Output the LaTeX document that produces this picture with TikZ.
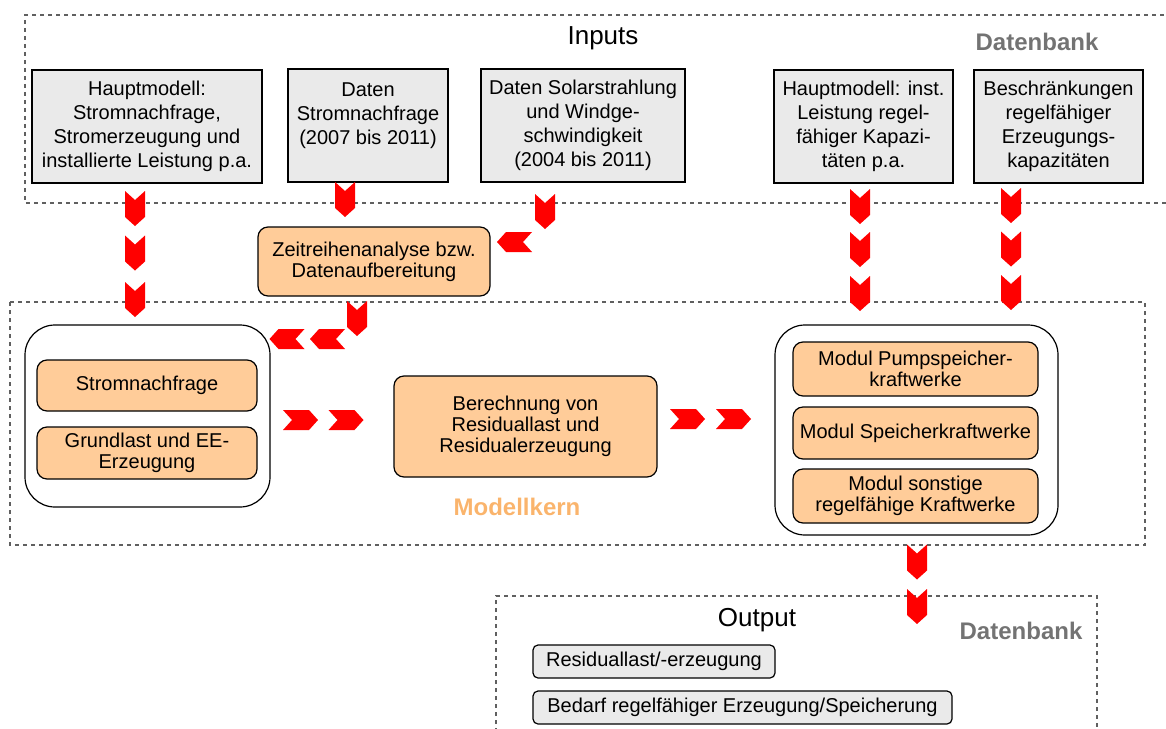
\documentclass[tikz,border=0pt]{standalone}
\usepackage{fontspec}
\setmainfont{Liberation Sans}
\definecolor{peach}{HTML}{FFCC99}
\definecolor{boxgray}{HTML}{EAEAEA}
\definecolor{dbgray}{HTML}{737373}
\definecolor{kernorange}{HTML}{FAB46C}
\definecolor{dashgray}{HTML}{606060}
\begin{document}
\begin{tikzpicture}[x=0.5pt,y=-0.5pt, font=\fontsize{10}{12}\selectfont,
 gbox/.style={draw=black, line width=0.6pt, fill=boxgray, inner sep=0pt, align=center},
 pbox/.style={draw=black, line width=0.6pt, fill=peach, rounded corners=5pt, inner sep=0pt, align=center, font=\fontsize{10}{10.5}\selectfont},
 obox/.style={draw=black, line width=0.6pt, rounded corners=15pt, inner sep=0pt},
 rbox/.style={draw=black, line width=0.6pt, fill=boxgray, rounded corners=2.5pt, inner sep=0pt, align=center},
 sz/.style 2 args={minimum width=#1, minimum height=#2},
 dashbox/.style={draw=dashgray, line width=0.6pt, dash pattern=on 2pt off 2pt},
 titletext/.style={font=\fontsize{13}{15}\selectfont, inner sep=0pt},
 dbtext/.style={font=\fontsize{12}{14}\selectfont\bfseries, text=dbgray, inner sep=0pt},
 chevdown/.pic={\fill[red] (-10,-17.5) -- (0,-8.5) -- (10,-17.5) -- (10,8.5) -- (0,17.5) -- (-10,8.5) -- cycle;},
 chevright/.pic={\fill[red] (-17.5,-10) -- (-8.5,0) -- (-17.5,10) -- (8.5,10) -- (17.5,0) -- (8.5,-10) -- cycle;},
 chevleft/.pic={\fill[red] (17.5,-10) -- (8.5,0) -- (17.5,10) -- (-8.5,10) -- (-17.5,0) -- (-8.5,-10) -- cycle;}
]
\useasboundingbox (0,0) rectangle (1166,728);

% dashed frames
\draw[dashbox] (1172,15) -- (25,15) -- (25,203) -- (1172,203);
\draw[dashbox] (10,302) rectangle (1145,545);
\draw[dashbox] (496,740) -- (496,596) -- (1097,596) -- (1097,740);

\node[titletext] (tin) at (603,38) {Inputs};
\node[dbtext] (db1) at (1037,42) {Datenbank};
\node[titletext] (tout) at (757,620) {Output};
\node[dbtext] (db2) at (1021,631) {Datenbank};
\node[font=\fontsize{12}{14}\selectfont\bfseries, text=kernorange, inner sep=0pt] (kern) at (517,507) {Modellkern};

% input boxes
\node[gbox, sz={115pt}{56.5pt}] (h1) at (147,126.5) {Hauptmodell:\\Stromnachfrage,\\Stromerzeugung und\\installierte Leistung p.a.};
\node[gbox, sz={80pt}{56.5pt}] (h2) at (368,125.5) {Daten\\Stromnachfrage\\(2007 bis 2011)\\~};
\node[gbox, sz={102pt}{56.5pt}] (h3) at (583,125.5) {Daten Solarstrahlung\\und Windge-\\schwindigkeit\\(2004 bis 2011)};
\node[gbox, sz={89.5pt}{56.5pt}] (h4) at (863.5,126.5) {Hauptmodell: inst.\\Leistung regel-\\fähiger Kapazi-\\täten p.a.};
\node[gbox, sz={84.5pt}{56.5pt}] (h5) at (1058.5,126.5) {Beschränkungen\\regelfähiger\\Erzeugungs-\\kapazitäten};

% Zeitreihen
\node[pbox, sz={116pt}{34.5pt}] (zr) at (374,261.5) {Zeitreihenanalyse bzw.\\Datenaufbereitung};

% left module
\node[obox, sz={122.5pt}{91pt}] (lo) at (147.5,416) {};
\node[pbox, sz={110pt}{25.5pt}] (sn) at (147,385.5) {Stromnachfrage};
\node[pbox, sz={110pt}{26pt}] (gl) at (147,453) {Grundlast und EE-\\Erzeugung};

% middle
\node[pbox, sz={131.5pt}{50.5pt}] (ber) at (525.5,426.5) {Berechnung von\\Residuallast und\\Residualerzeugung};

% right module
\node[obox, sz={141.5pt}{105pt}] (ro) at (916.5,430) {};
\node[pbox, sz={122.5pt}{27pt}] (m1) at (915.5,369) {Modul Pumpspeicher-\\kraftwerke};
\node[pbox, sz={122.5pt}{26pt}] (m2) at (915.5,433) {Modul Speicherkraftwerke};
\node[pbox, sz={122.5pt}{27pt}] (m3) at (915.5,496) {Modul sonstige\\regelfähige Kraftwerke};

% output boxes
\node[rbox, sz={121pt}{16.5pt}] (r1) at (654,661.5) {Residuallast/-erzeugung};
\node[rbox, sz={209.5pt}{16.5pt}] (r2) at (742.5,707.5) {Bedarf regelfähiger Erzeugung/Speicherung};

% chevrons
\pic at (135,208.5) {chevdown};
\pic at (135,253) {chevdown};
\pic at (135,299.5) {chevdown};
\pic at (345,199.5) {chevdown};
\pic at (545,211.5) {chevdown};
\pic at (514.5,242) {chevleft};
\pic at (357,318.5) {chevdown};
\pic at (287,339) {chevleft};
\pic at (327.5,339) {chevleft};
\pic at (300.5,420) {chevright};
\pic at (346,420) {chevright};
\pic at (687.5,419) {chevright};
\pic at (733.5,419) {chevright};
\pic at (860,206.5) {chevdown};
\pic at (860,249.5) {chevdown};
\pic at (860,293.5) {chevdown};
\pic at (1011,205.5) {chevdown};
\pic at (1011,249) {chevdown};
\pic at (1011,292.5) {chevdown};
\pic at (917,562) {chevdown};
\pic at (917,606.5) {chevdown};
\end{tikzpicture}
\end{document}
